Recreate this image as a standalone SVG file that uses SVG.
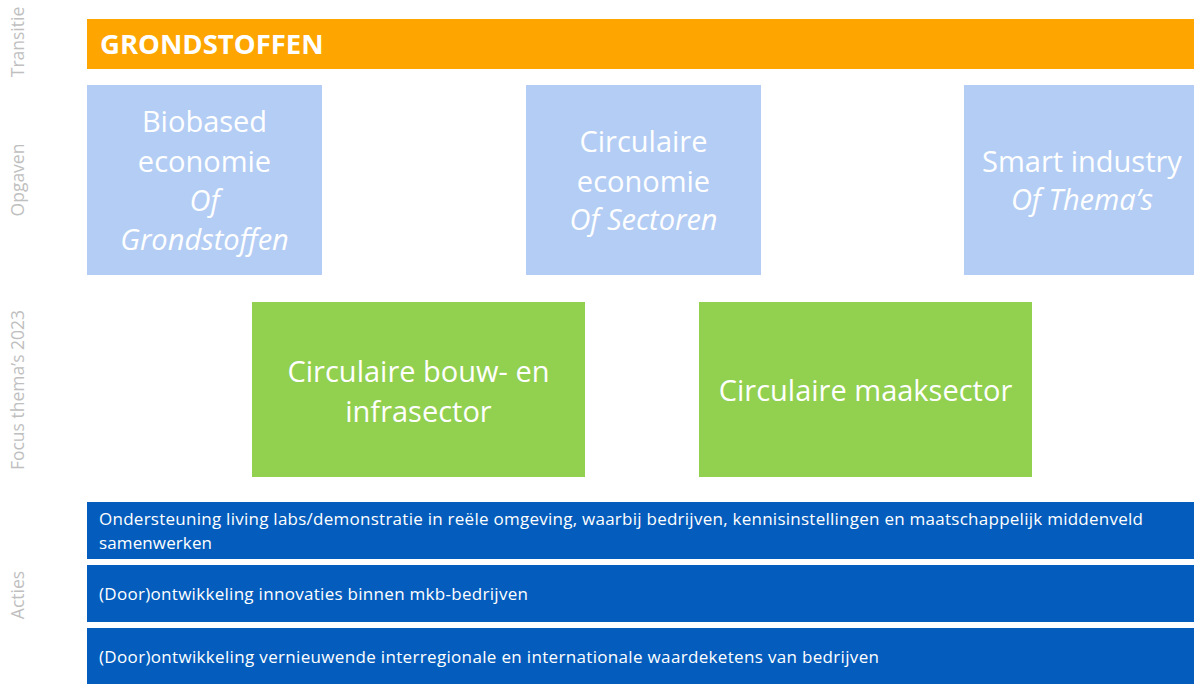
<svg xmlns="http://www.w3.org/2000/svg" width="1194" height="684" viewBox="0 0 1194 684">
<style>
.lbl{font-family:"Open Sans","Noto Sans",sans-serif;font-size:17.5px;fill:#bfbfbf;text-anchor:middle}
.big{font-family:"Open Sans","Noto Sans",sans-serif;font-size:29px;fill:#ffffff;text-anchor:middle}
.it{font-style:italic}
.act{font-family:"Open Sans","Noto Sans",sans-serif;font-size:17px;fill:#ffffff}
.opg{fill:#b4cdf4}
.foc{fill:#92d050}
.bar{fill:#045dbd}
</style>
<rect width="1194" height="684" fill="#ffffff"/>
<g id="labels">
<text class="lbl" transform="translate(24,42) rotate(-90)">Transitie</text>
<text class="lbl" transform="translate(24,180) rotate(-90)">Opgaven</text>
<text class="lbl" transform="translate(24,390) rotate(-90)">Focus thema’s 2023</text>
<text class="lbl" transform="translate(24,595) rotate(-90)">Acties</text>
</g>
<g id="transitie">
<rect x="87" y="19" width="1107" height="50" fill="#ffa500"/>
<text x="100" y="54" font-family="'Open Sans','Noto Sans',sans-serif" font-size="27.5" font-weight="bold" fill="#ffffff">GRONDSTOFFEN</text>
</g>
<g id="opgave-biobased">
<rect class="opg" x="87" y="85" width="235" height="190"/>
<text class="big" x="204.5" y="132">Biobased</text>
<text class="big" x="204.5" y="172">economie</text>
<text class="big it" x="204.5" y="211">Of</text>
<text class="big it" x="204.5" y="250">Grondstoffen</text>
</g>
<g id="opgave-circulair">
<rect class="opg" x="526" y="85" width="235" height="190"/>
<text class="big" x="643.5" y="152">Circulaire</text>
<text class="big" x="643.5" y="192">economie</text>
<text class="big it" x="643.5" y="230">Of Sectoren</text>
</g>
<g id="opgave-smart">
<rect class="opg" x="964" y="85" width="235" height="190"/>
<text class="big" x="1082" y="172">Smart industry</text>
<text class="big it" x="1082" y="210">Of Thema’s</text>
</g>
<g id="focus-bouw">
<rect class="foc" x="252" y="302" width="333" height="175"/>
<text class="big" x="418.5" y="382">Circulaire bouw- en</text>
<text class="big" x="418.5" y="422">infrasector</text>
</g>
<g id="focus-maak">
<rect class="foc" x="699" y="302" width="333" height="175"/>
<text class="big" x="865.5" y="401">Circulaire maaksector</text>
</g>
<g id="actie-1">
<rect class="bar" x="87" y="502" width="1107" height="57"/>
<text class="act" x="99" y="525" textLength="1044" lengthAdjust="spacing">Ondersteuning living labs/demonstratie in reële omgeving, waarbij bedrijven, kennisinstellingen en maatschappelijk middenveld</text>
<text class="act" x="99" y="549" textLength="113" lengthAdjust="spacing">samenwerken</text>
</g>
<g id="actie-2">
<rect class="bar" x="87" y="565" width="1107" height="57"/>
<text class="act" x="99" y="600" textLength="429" lengthAdjust="spacing">(Door)ontwikkeling innovaties binnen mkb-bedrijven</text>
</g>
<g id="actie-3">
<rect class="bar" x="87" y="628" width="1107" height="56"/>
<text class="act" x="99" y="663" textLength="780" lengthAdjust="spacing">(Door)ontwikkeling vernieuwende interregionale en internationale waardeketens van bedrijven</text>
</g>
<g id="connectors"></g>
</svg>
